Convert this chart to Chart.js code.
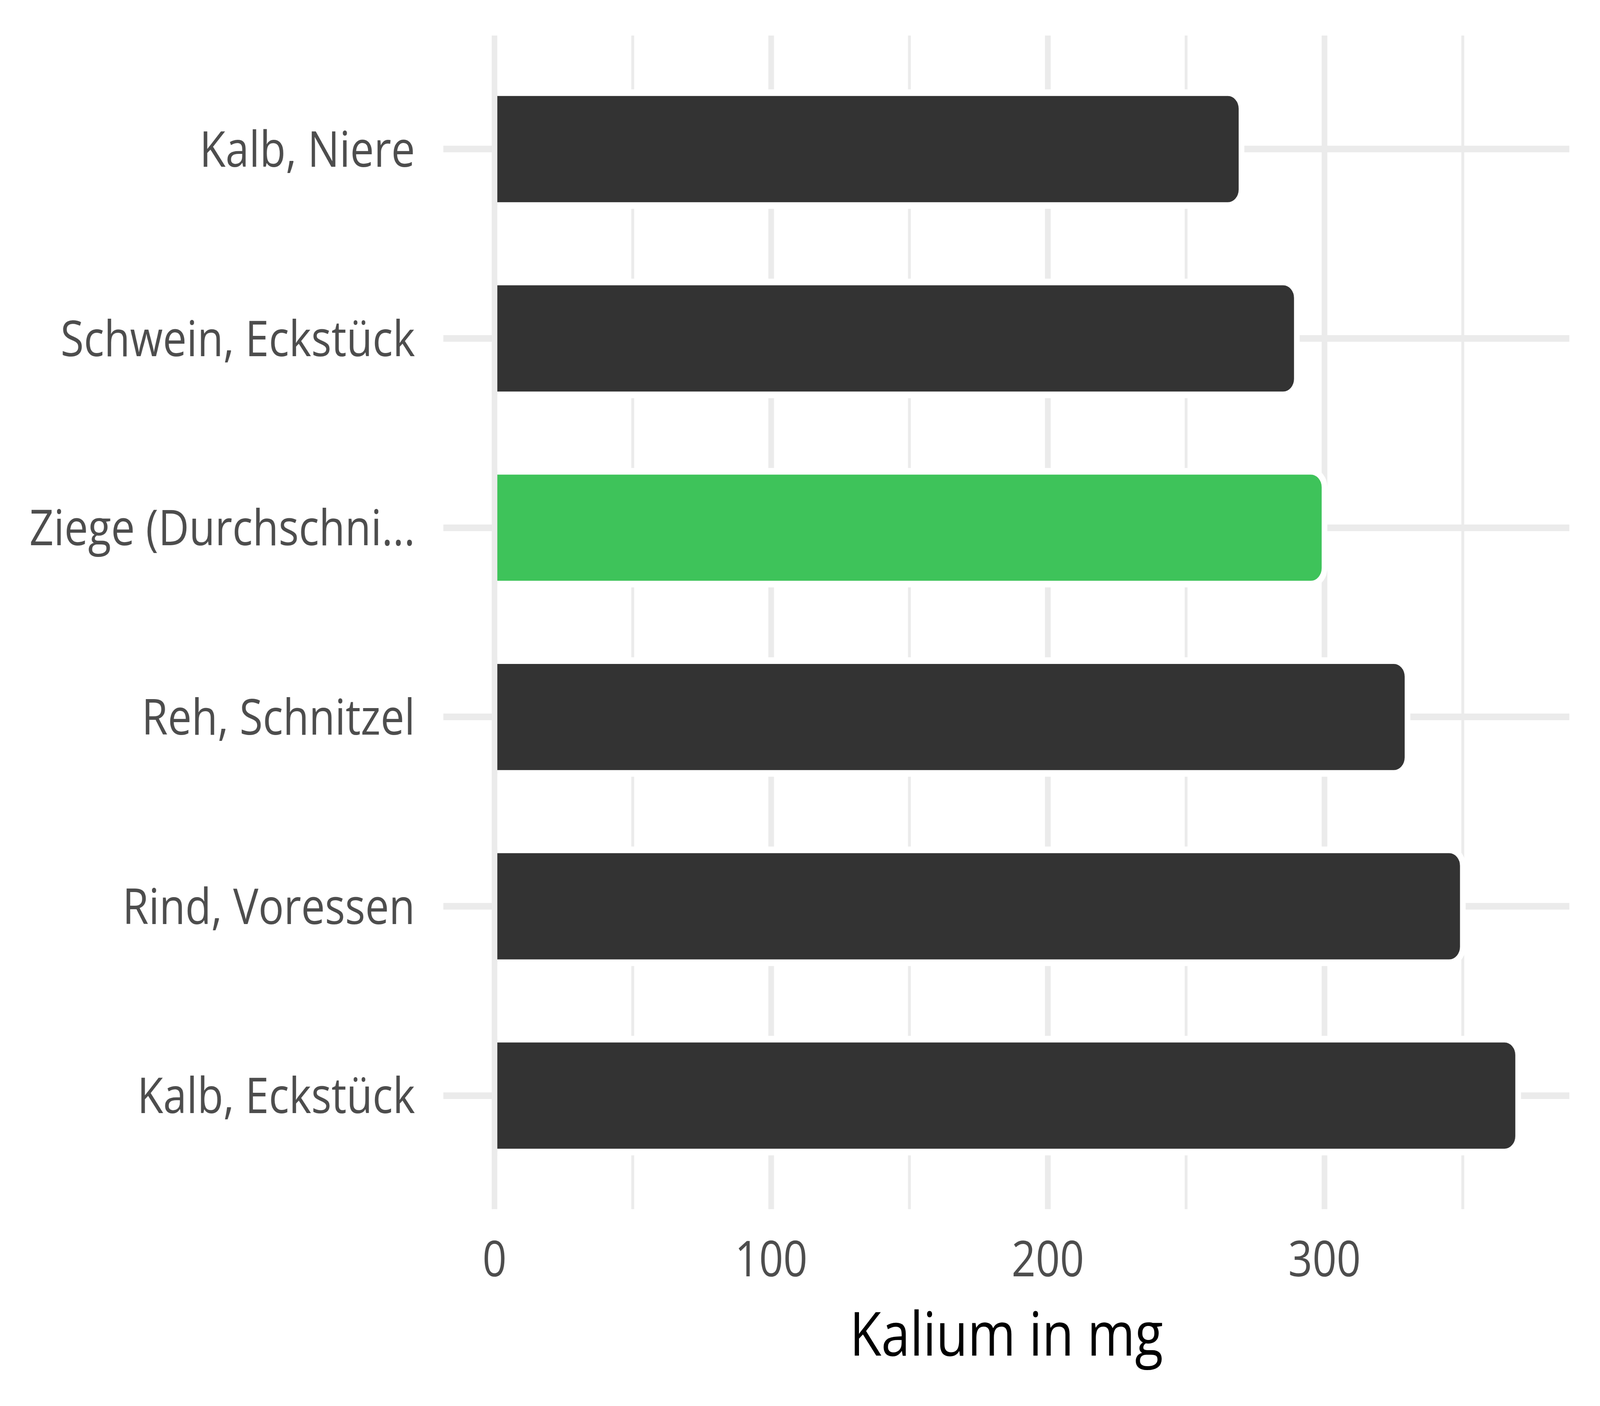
<!DOCTYPE html>
<html>
<head>
<meta charset="utf-8">
<script src="https://cdn.jsdelivr.net/npm/chart.js@4.4.1/dist/chart.umd.min.js"></script>
<style>
  html, body { margin: 0; padding: 0; background: #fff; overflow: hidden; }
  #wrap { position: relative; overflow: hidden; }
  canvas { display: block; transform-origin: 0 0; }
</style>
</head>
<body>
<div id="wrap"><canvas id="chart" width="4800" height="3600"></canvas></div>
<script>
// Kalium in mg, Reihenfolge von oben nach unten
const foods = ["Kalb, Niere", "Schwein, Eckstück", "Ziege (Durchschni...", "Reh, Schnitzel", "Rind, Voressen", "Kalb, Eckstück"];
const kalium = [270, 290, 300, 330, 350, 370];
const highlighted = "Ziege (Durchschni...";
const xTicks = [0, 50, 100, 150, 200, 250, 300, 350];
const xTickLabels = [0, 100, 200, 300];

const DARK = "#333333";
const GREEN = "#3EC35A";
const GRID = "#EBEBEB";
const HALO = 17;
const RADIUS = 41;

// layout is done on a 4800x3600 grid, then stretched to fill the window
const W = 4800, H = 3600;
const vw = window.innerWidth, vh = window.innerHeight;
const wrap = document.getElementById("wrap");
wrap.style.width = vw + "px";
wrap.style.height = vh + "px";
const canvas = document.getElementById("chart");
canvas.style.width = W + "px";
canvas.style.height = H + "px";
canvas.style.transform = "scale(" + (vw / W) + "," + (vh / H) + ")";

// white outline around each bar, like the ggplot stroke
const barHalo = {
  id: "barHalo",
  afterDatasetsDraw(chart) {
    const ctx = chart.ctx;
    const meta = chart.getDatasetMeta(0);
    ctx.save();
    ctx.strokeStyle = "#ffffff";
    ctx.lineWidth = HALO;
    meta.data.forEach(bar => {
      const { x, y, base, height } = bar.getProps(["x", "y", "base", "height"], true);
      const top = y - height / 2, bottom = y + height / 2;
      const r = Math.min(RADIUS, height / 2, x - base);
      ctx.beginPath();
      ctx.moveTo(base, top);
      ctx.lineTo(x - r, top);
      ctx.arcTo(x, top, x, top + r, r);
      ctx.lineTo(x, bottom - r);
      ctx.arcTo(x, bottom, x - r, bottom, r);
      ctx.lineTo(base, bottom);
      ctx.stroke();
    });
    ctx.restore();
  }
};

const tickFont = { family: "'Open Sans'", size: 127, weight: 400 };

new Chart(canvas, {
  type: "bar",
  data: {
    datasets: [{
      data: foods.map((f, i) => ({ x: kalium[i], y: i + 1 })),
      backgroundColor: foods.map(f => f === highlighted ? GREEN : DARK),
      borderWidth: 0,
      borderRadius: RADIUS,
      borderSkipped: "start",
      barPercentage: 0.596,
      categoryPercentage: 1
    }]
  },
  options: {
    indexAxis: "y",
    responsive: false,
    devicePixelRatio: 1,
    animation: false,
    layout: { padding: { left: 0, top: 91, right: 92, bottom: 0 } },
    plugins: { legend: { display: false }, tooltip: { enabled: false } },
    scales: {
      x: {
        type: "linear",
        min: -18.5,
        max: 388.5,
        afterBuildTicks: s => { s.ticks = xTicks.map(v => ({ value: v })); },
        afterFit: s => { s.height = 504; },
        border: { display: false },
        grid: {
          color: GRID,
          lineWidth: c => xTickLabels.includes(c.tick.value) ? 17 : 8.5,
          drawTicks: false
        },
        ticks: {
          padding: 60,
          color: "#4D4D4D",
          font: tickFont,
          maxRotation: 0,
          autoSkip: false,
          callback: v => xTickLabels.includes(v) ? String(v) : ""
        },
        title: {
          display: true,
          text: "Kalium in mg",
          color: "#000000",
          font: { family: "'Open Sans'", size: 155, weight: 400 },
          padding: { top: 0, bottom: 80 }
        }
      },
      y: {
        type: "linear",
        min: 0.4,
        max: 6.6,
        reverse: true,
        offset: false,
        afterBuildTicks: s => { s.ticks = foods.map((f, i) => ({ value: i + 1 })); },
        afterFit: s => { s.width = 1330; s.paddingTop = 0; s.paddingBottom = 0; },
        border: { display: false },
        grid: { color: GRID, lineWidth: 17, drawTicks: false, offset: false },
        ticks: {
          padding: 85,
          labelOffset: 9,
          color: "#4D4D4D",
          font: tickFont,
          autoSkip: false,
          callback: v => foods[v - 1]
        }
      }
    }
  },
  plugins: [barHalo]
});
</script>
</body>
</html>
